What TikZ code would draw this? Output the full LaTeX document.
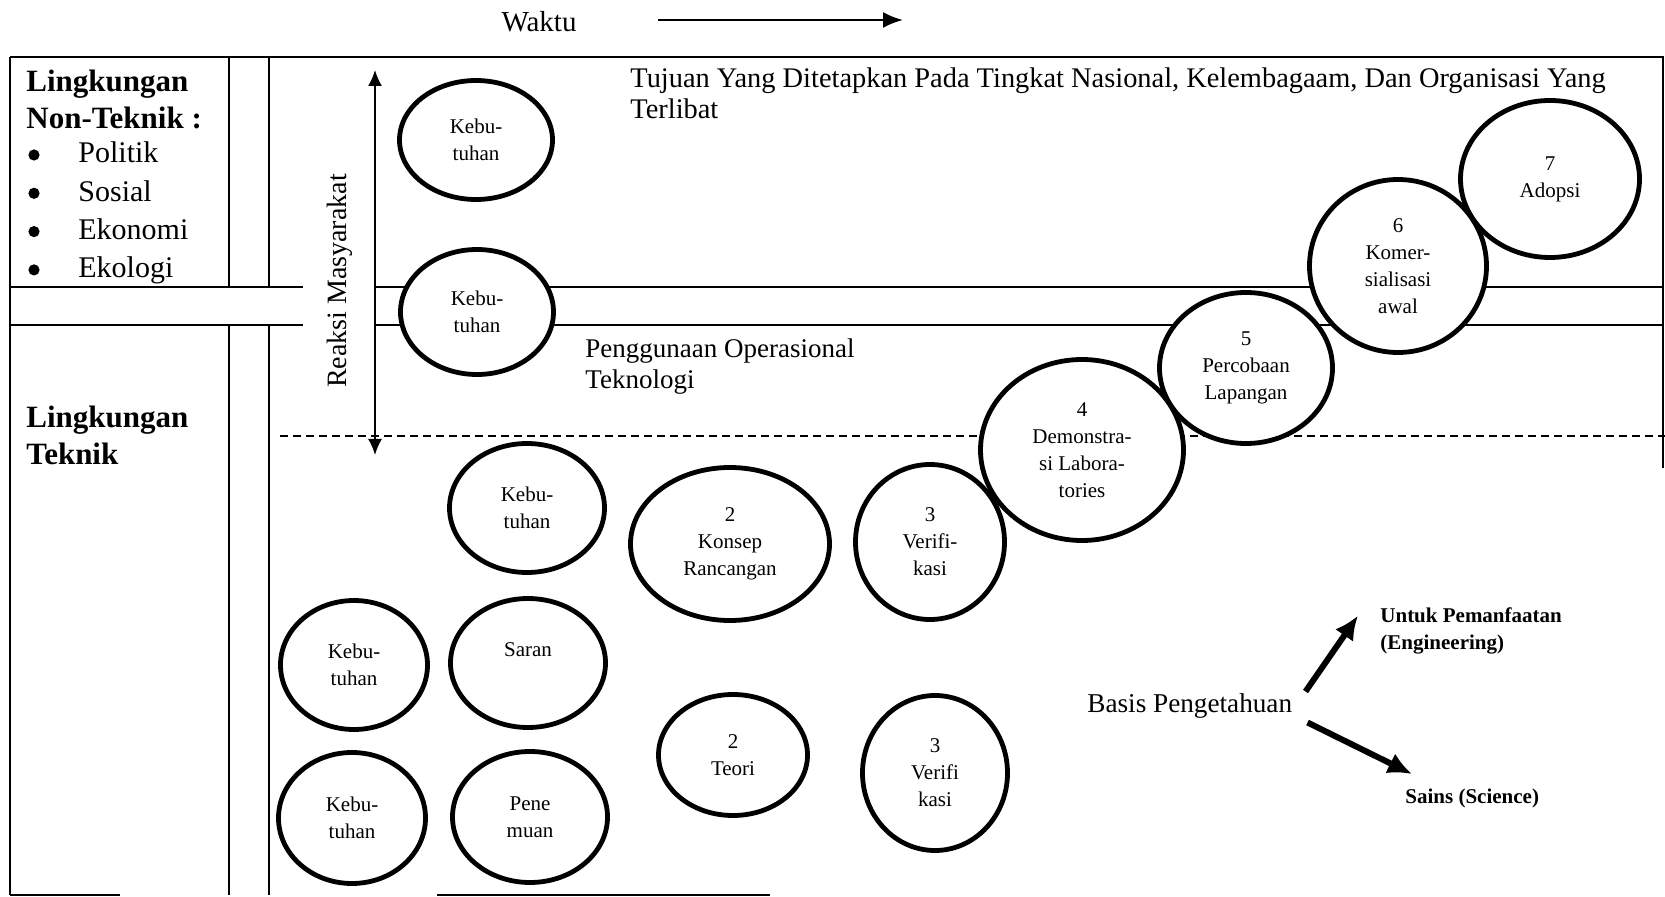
\documentclass[tikz,border=0pt]{standalone}
\usepackage{fontspec}
\setmainfont{Liberation Serif}
\usetikzlibrary{shapes.geometric,arrows.meta,calc}

\begin{document}
\begin{tikzpicture}[x=0.5pt,y=-0.5pt]

                \tikzstyle{stage}     = [ellipse, draw, line width=2.4pt, fill=white, inner sep=0pt, align=center, font=\fontsize{10.5}{13.5}\selectfont]
                \tikzstyle{rule}      = [line width=0.9pt]
                \tikzstyle{plaintext} = [inner sep=0pt, align=left, font=\fontsize{13.5}{15.5}\selectfont]
                \tikzstyle{heading}   = [inner sep=0pt, align=left, font=\bfseries\fontsize{15.5}{18.5}\selectfont]
                \tikzstyle{smalltext} = [inner sep=0pt, align=left, font=\bfseries\fontsize{10.5}{13.5}\selectfont]
                \tikzstyle{bigarrow}  = [line width=3pt, -{Latex[length=12pt,width=11pt]}]

                \useasboundingbox (0,0) rectangle (1665,897);

                \node [font=\fontsize{14.5}{17}\selectfont] (waktu) at (539,22) {Waktu};
                \coordinate (timeA) at (658,20);
                \coordinate (timeB) at (903,20);
                \draw [line width=1.2pt, -{Latex[length=10pt,width=8pt]}] (timeA) -- (timeB);

                \draw [rule] (10,57) -- (1663,57) -- (1663,468);
                \draw [rule] (10,57) -- (10,895);
                \draw [rule] (10,895) -- (120,895);
                \draw [rule] (437,895) -- (770,895);
                \foreach \x in {229,269} {
                        \draw [rule] (\x,57) -- (\x,287);
                        \draw [rule] (\x,325) -- (\x,895);
                }
                \foreach \y in {287,325} {
                        \draw [rule] (10,\y) -- (303,\y);
                        \draw [rule] (375,\y) -- (1663,\y);
                }
                \draw [line width=1.2pt, dash pattern=on 4pt off 2.5pt] (280,436) -- (1665,436);

                \coordinate (reaksiTop) at (375,70);
                \coordinate (reaksiBot) at (375,455);
                \draw [line width=0.9pt, {Latex[length=8pt,width=7pt]}-{Latex[length=8pt,width=7pt]}] (reaksiTop) -- (reaksiBot);
                \node [rotate=90, font=\fontsize{14}{16}\selectfont] (reaksi) at (340,281) {Reaksi Masyarakat};

                \node [heading, anchor=north west] (nontek) at (26,70) {Lingkungan\\Non-Teknik :};
                \foreach \t [count=\i] in {Politik, Sosial, Ekonomi, Ekologi} {
                        \node [anchor=base west, inner sep=0pt, font=\fontsize{15}{18}\selectfont] (item\i) at (78,{163+38.3*(\i-1)}) {\t};
                        \fill ($(item\i.base west)+(-44,-8)$) circle [radius=2.8pt];
                }
                \node [heading, anchor=north west] (teknik) at (26,406) {Lingkungan\\Teknik};

                \node [plaintext, anchor=north west, font=\fontsize{14.2}{15.5}\selectfont] (tujuan) at (630,67) {Tujuan Yang Ditetapkan Pada Tingkat Nasional, Kelembagaam, Dan Organisasi Yang\\Terlibat};
                \node [plaintext, anchor=north west] (guna) at (585,338) {Penggunaan Operasional\\Teknologi};

                \node [stage, minimum width=76.5pt, minimum height=59.5pt] (kebA) at (476,140) {Kebu-\\tuhan};
                \node [stage, minimum width=76.5pt, minimum height=62.5pt] (kebB) at (477,312) {Kebu-\\tuhan};
                \node [stage, minimum width=77.5pt, minimum height=64.5pt] (kebC) at (527,508) {Kebu-\\tuhan};
                \node [stage, minimum width=73.5pt, minimum height=64.5pt] (kebD) at (354,665) {Kebu-\\tuhan};
                \node [stage, minimum width=77.5pt, minimum height=64.5pt] (saran) at (528,663) {Saran\\\mbox{}};
                \node [stage, minimum width=73.5pt, minimum height=65.5pt] (kebE) at (352,818) {Kebu-\\tuhan};
                \node [stage, minimum width=77.5pt, minimum height=65.5pt] (temu) at (530,817) {Pene\\muan};
                \node [stage, minimum width=99.5pt, minimum height=76.5pt] (konsep) at (730,544) {2\\Konsep\\Rancangan};
                \node [stage, minimum width=74.5pt, minimum height=60.5pt] (teori) at (733,755) {2\\Teori};
                \node [stage, minimum width=72.5pt, minimum height=77.5pt] (verB) at (935,773) {3\\Verifi\\kasi};
                \node [stage, minimum width=74.5pt, minimum height=77.5pt] (verA) at (930,542) {3\\Verifi-\\kasi};
                \node [stage, minimum width=89.5pt, minimum height=78.5pt] (adopsi) at (1550,179) {7\\Adopsi};
                \node [stage, minimum width=101.5pt, minimum height=90.5pt] (demo) at (1082,450) {4\\Demonstra-\\si Labora-\\tories};
                \node [stage, minimum width=86.5pt, minimum height=75.5pt] (coba) at (1246,368) {5\\Percobaan\\Lapangan};
                \node [stage, minimum width=88.5pt, minimum height=86.5pt] (komersial) at (1398,266) {6\\Komer-\\sialisasi\\awal};

                \node [plaintext, anchor=base west, font=\fontsize{13.6}{15}\selectfont] (basis) at (1087,712) {Basis Pengetahuan};
                \node [smalltext, anchor=north west] (untuk) at (1380,607) {Untuk Pemanfaatan\\(Engineering)};
                \node [smalltext, anchor=base west] (sains) at (1405,803) {Sains (Science)};
                \draw [bigarrow] ($(basis.east)+(13,-14)$) -- ($(untuk.west)+(-22,-15)$);
                \draw [bigarrow] ($(basis.east)+(15,17)$) -- ($(sains.north west)+(7,-14)$);
\end{tikzpicture}
\end{document}
